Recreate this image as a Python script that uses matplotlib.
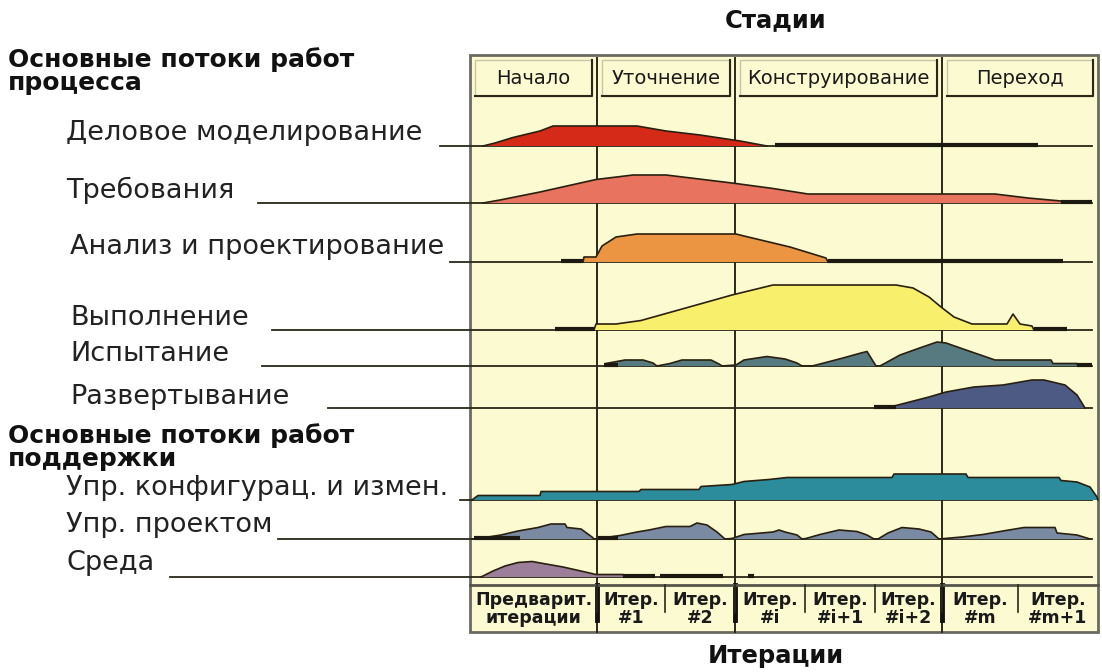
import matplotlib.pyplot as plt
from matplotlib.patches import Rectangle

plt.rcParams['font.family'] = ['DejaVu Sans']

# ---- data ----
phases = ['Начало', 'Уточнение', 'Конструирование', 'Переход']
iterations = ['Предварит.\nитерации', 'Итер.\n#1', 'Итер.\n#2', 'Итер.\n#i',
              'Итер.\n#i+1', 'Итер.\n#i+2', 'Итер.\n#m', 'Итер.\n#m+1']

flows = ['Деловое моделирование', 'Требования', 'Анализ и проектирование',
         'Выполнение', 'Испытание', 'Развертывание',
         'Упр. конфигурац. и измен.', 'Упр. проектом', 'Среда']
colors = ['#d62a18', '#e8735e', '#eb9442', '#f8f06c', '#567a80', '#4d5a84',
          '#2c8c9c', '#7a8aa2', '#9c7e9a']

# hump profiles: horizontal position (px inside the panel) and height (px)
business_x = [483, 495, 513, 540, 553, 637, 666, 700, 740, 767]
business_h = [0, 3, 8.5, 15, 20, 20, 15, 11, 5, 0]

req_x = [483, 500, 540, 596, 633, 666, 732, 773, 808, 995, 1028, 1061, 1062]
req_h = [0, 3, 11, 23.5, 28, 28, 20, 14.5, 9, 9, 5, 2, 0]

analysis_x = [583, 584, 596, 602, 616, 637, 736, 744, 790, 826, 828]
analysis_h = [0, 5, 5, 16, 25, 28, 28, 26, 15, 4, 0]

impl_x = [594, 596, 616, 641, 700, 732, 773, 896, 913, 929, 941, 954, 972,
          1007, 1013, 1020, 1032, 1034]
impl_h = [0, 6, 6, 9.5, 26, 35, 45, 45, 42, 33, 23, 13, 6, 6, 16, 6, 4, 0]

test_x = [606, 625, 643, 653, 657, 670, 682, 711, 719, 722, 736, 744, 767,
          785, 797, 802, 812, 822, 843, 861, 867, 876, 880, 900, 921, 937,
          946, 966, 995, 1051, 1053, 1077, 1078]
test_h = [2.5, 6, 6, 3, 0, 2.5, 6, 6, 2, 0, 1, 6, 9.5, 7, 3, 0, 0, 2.5, 8,
          13, 14.5, 0, 0, 11, 18.5, 24, 23, 16, 6, 6, 2.5, 2.5, 0]

deploy_x = [896, 929, 946, 974, 1003, 1032, 1044, 1065, 1077, 1085]
deploy_h = [2.5, 11, 16, 21, 23, 28, 28, 23, 13, 0]

config_x = [472, 478, 540, 541, 639, 641, 699, 701, 732, 744, 769, 787, 892,
            894, 966, 968, 1059, 1061, 1077, 1090, 1097, 1098]
config_h = [0, 4.5, 4.5, 8.5, 8.5, 10.5, 10.5, 13.5, 15.5, 18.5, 20.5, 22.5,
            22.5, 26, 26, 22.5, 22.5, 19.5, 18, 13, 3, 0]

project_x = [472, 485, 501, 518, 538, 551, 565, 567, 581, 592, 594,
             598, 620, 637, 649, 666, 690, 697, 707, 717, 725,
             732, 744, 773, 779, 785, 797, 802,
             806, 820, 839, 857, 867, 874,
             878, 888, 902, 919, 931, 939,
             962, 983, 1003, 1024, 1055, 1057, 1077, 1090]
project_h = [0, 1.5, 4, 8, 11.5, 15, 15, 11.5, 10, 2, 0,
             0.5, 3.5, 7, 9, 12.5, 12.5, 16, 14, 7, 0,
             0.5, 4.5, 7, 9, 7, 4, 0,
             0.5, 4.5, 9, 7.5, 4, 0,
             0, 6, 11.5, 10, 7, 0,
             2, 4.5, 8, 11.5, 11.5, 6, 4, 0]

env_x = [481, 493, 505, 518, 532, 546, 563, 583, 596, 623, 624]
env_h = [0, 6, 11, 14.5, 15.5, 13, 10, 5.5, 2.5, 2.5, 0]

humps_x = [business_x, req_x, analysis_x, impl_x, test_x, deploy_x,
           config_x, project_x, env_x]
humps_h = [business_h, req_h, analysis_h, impl_h, test_h, deploy_h,
           config_h, project_h, env_h]

# thick dark stretches along the base lines (start, end)
thick_runs = [[(775, 1038)], [(1061, 1092)], [(561, 583), (828, 1063)],
              [(555, 594), (1034, 1067)], [(604, 618), (1077, 1092)],
              [(874, 896)], [], [(474, 520), (598, 618)],
              [(623, 655), (660, 723), (748, 754)]]

# ---- layout ----
W, H = 1102, 672
PANEL_L, PANEL_R, PANEL_T, PANEL_B = 470, 1098, 55, 632
phase_edges = [470, 597, 735, 942, 1098]
iter_edges = [470, 597, 665, 735, 805, 875, 942, 1018, 1098]
base_y = [146, 203, 262, 330, 366, 408, 500, 539, 577]
line_start = [440, 258, 450, 272, 262, 328, 460, 278, 170]
label_x = [66, 66, 70, 70, 70, 70, 66, 66, 66]
label_y = [133, 190, 247, 318, 354, 397, 488, 525, 563]
BG = '#fcfad0'
DARK = '#2a2818'

fig = plt.figure(figsize=(W / 100, H / 100), dpi=100)
ax = fig.add_axes([0, 0, 1, 1])
ax.set_xlim(0, W)
ax.set_ylim(H, 0)
ax.axis('off')

# panel
ax.add_patch(Rectangle((PANEL_L, PANEL_T), PANEL_R - PANEL_L, PANEL_B - PANEL_T,
                       facecolor=BG, edgecolor='#6a6a60', lw=2, zorder=0))

# phase header boxes
for i, name in enumerate(phases):
    x0, x1 = phase_edges[i] + 5, phase_edges[i + 1] - 5
    ax.add_patch(Rectangle((x0, 60), x1 - x0, 36, facecolor=BG,
                           edgecolor='#c8c6a8', lw=1, zorder=2))
    ax.plot([x0, x1, x1], [96, 96, 60], color=DARK, lw=1.5, zorder=3)
    ax.text((x0 + x1) / 2, 78, name, ha='center', va='center',
            fontsize=14, color='#1a1a1a', zorder=4)

# phase separators
for x in phase_edges[1:-1]:
    ax.plot([x, x], [PANEL_T + 3, PANEL_B], color=DARK, lw=1.4, zorder=3)
    ax.plot([x, x], [585, 620], color='#111111', lw=3.5, zorder=3)

# iteration row
ax.plot([PANEL_L, PANEL_R], [585, 585], color='#55554a', lw=2, zorder=3)
for x in iter_edges[1:-1]:
    ax.plot([x, x], [585, 612], color=DARK, lw=1.2, zorder=3)
for i, name in enumerate(iterations):
    xc = (iter_edges[i] + iter_edges[i + 1]) / 2
    ax.text(xc, 609, name, ha='center', va='center', fontsize=12.5,
            fontweight='bold', linespacing=1.05, color='#1a1a1a', zorder=4)

# work flows
for i, name in enumerate(flows):
    y = base_y[i]
    ax.plot([line_start[i], 1092], [y, y], color=DARK, lw=1.3, zorder=2)
    hx = humps_x[i]
    hy = [y - v for v in humps_h[i]]
    ax.fill_between(hx, hy, y, facecolor=colors[i], edgecolor='none', zorder=4)
    ax.plot(hx, hy, color='#2a2010', lw=1.2, zorder=5)
    for a, b in thick_runs[i]:
        ax.plot([a, b], [y - 1, y - 1], color='#1c1a10', lw=3, zorder=5,
                solid_capstyle='butt')
    ax.text(label_x[i], label_y[i], name, ha='left', va='center',
            fontsize=19.5, color='#222222')

# section headings
heading_kw = dict(ha='left', va='center', fontsize=18, fontweight='bold',
                  color='#111111')
ax.text(8, 60, 'Основные потоки работ', **heading_kw)
ax.text(8, 83, 'процесса', **heading_kw)
ax.text(8, 436, 'Основные потоки работ', **heading_kw)
ax.text(8, 459, 'поддержки', **heading_kw)

ax.text(776, 20, 'Стадии', ha='center', va='center', fontsize=17.5,
        fontweight='bold', color='#111111')
ax.text(776, 656, 'Итерации', ha='center', va='center', fontsize=17.5,
        fontweight='bold', color='#111111')

fig.savefig('out.png', dpi=100, facecolor='white')
